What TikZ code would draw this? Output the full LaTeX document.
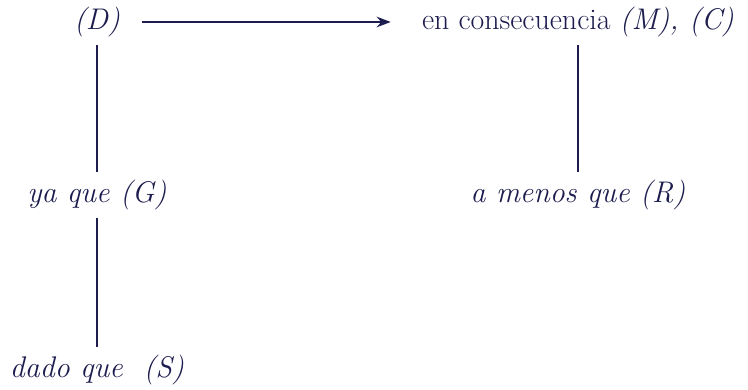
\documentclass[tikz,border=0pt]{standalone}
\usepackage{tikz}
\usetikzlibrary{arrows.meta}
\definecolor{navy}{HTML}{1C1C4E}

\begin{document}
\begin{tikzpicture}[
    term/.style={text=navy, font=\fontsize{17}{20}\selectfont, minimum height=0.92cm, inner sep=0pt},
    link/.style={draw=navy, line width=1.2pt}
]
    \useasboundingbox (0,0) rectangle (14.96,7.8);

    % Top row
    \node[term] (D) at (1.94, 7.36) {\textit{(D)}};
    \node[term] (C) at (11.56, 7.36) {en consecuencia \textit{(M), (C)}};

    % Middle row
    \node[term] (G) at (1.94, 3.9) {\textit{ya que (G)}};
    \node[term] (R) at (11.56, 3.9) {\textit{a menos que (R)}};

    % Bottom row
    \node[term] (S) at (1.94, 0.4) {\textit{dado que~ (S)}};

    % Connections
    \draw[link, -{Stealth[length=8pt, width=6pt]}, shorten <=0.44cm, shorten >=0.62cm] (D) -- (C);
    \draw[link] (D) -- (G);
    \draw[link] (G) -- (S);
    \draw[link] (C) -- (R);
\end{tikzpicture}
\end{document}
